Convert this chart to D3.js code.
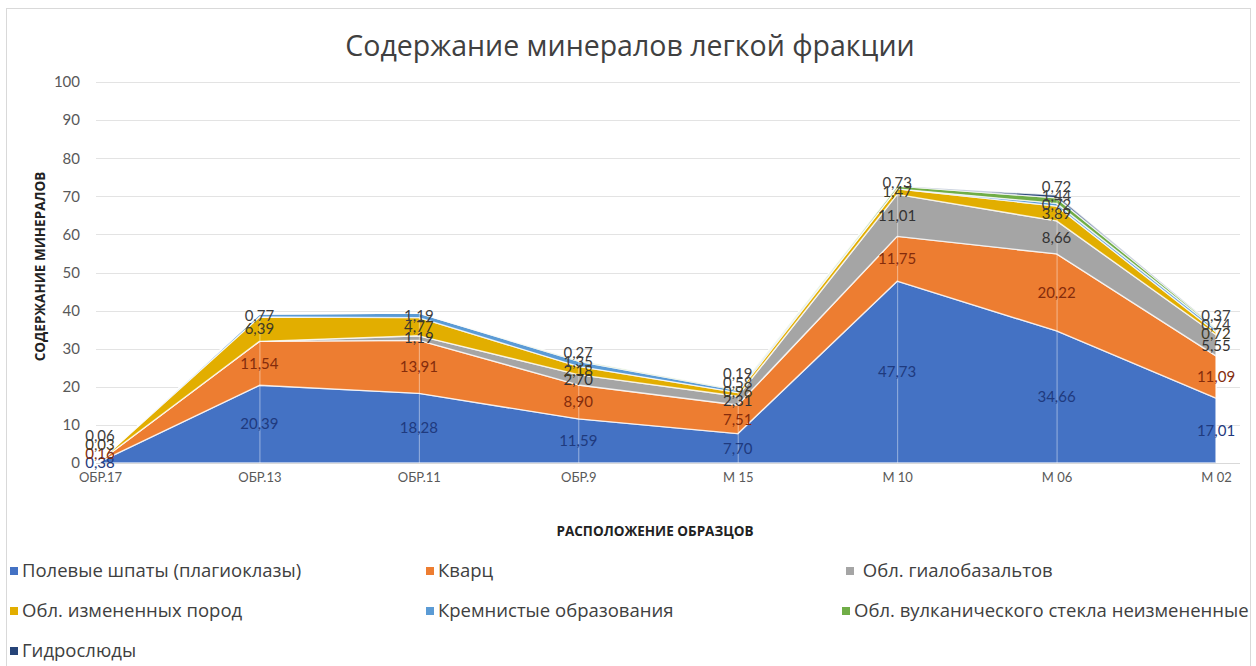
<!DOCTYPE html>
<html>
<head>
<meta charset="utf-8">
<script src="https://cdn.jsdelivr.net/npm/d3@7"></script>
<style>
  html, body { margin: 0; padding: 0; background: #fff; }
  svg { display: block; font-family: Lato, "Open Sans", sans-serif; }
</style>
</head>
<body>
<svg id="chart" width="1256" height="666"></svg>
<script>
// Sample locations along the profile
const samples = ["ОБР.17", "ОБР.13", "ОБР.11", "ОБР.9", "М 15", "М 10", "М 06", "М 02"];

// Mineral content of the light fraction, per sample
const feldspar   = [0.38, 20.39, 18.28, 11.59, 7.70, 47.73, 34.66, 17.01];
const quartz     = [0.16, 11.54, 13.91,  8.90, 7.51, 11.75, 20.22, 11.09];
const hyaloBasalt= [0,     0,     1.19,  2.70, 2.31, 11.01,  8.66,  5.55];
const altered    = [0.03,  6.39,  4.77,  2.18, 0.96,  1.47,  3.89,  0.72];
const siliceous  = [0.06,  0.77,  1.19,  1.35, 0.58,  0,     0.72,  0.74];
const volcGlass  = [0,     0,     0,     0.27, 0.19,  0.73,  1.44,  0.37];
const hydromica  = [0,     0,     0,     0,    0,     0,     0.72,  0];

const seriesNames = [
  "Полевые шпаты (плагиоклазы)",
  "Кварц",
  " Обл. гиалобазальтов",
  "Обл. измененных пород",
  "Кремнистые образования",
  "Обл. вулканического стекла неизмененные",
  "Гидрослюды"
];
const seriesValues = [feldspar, quartz, hyaloBasalt, altered, siliceous, volcGlass, hydromica];
const seriesColors = ["#4472C4", "#ED7D31", "#A5A5A5", "#E2AE00", "#5B9BD5", "#70AD47", "#264478"];
const labelColors  = ["#1F3A7E", "#842C0C", "#333333", "#3E3A26", "#404040", "#404040", "#404040"];

const yTicks = [0, 10, 20, 30, 40, 50, 60, 70, 80, 90, 100];

const rows = samples.map((s, i) => {
  const r = { sample: s };
  seriesNames.forEach((n, k) => { r[n] = seriesValues[k][i]; });
  return r;
});

const svg = d3.select("#chart");
const W = 1256, H = 666;

// Chart frame
svg.append("rect").attr("x", 6.5).attr("y", 8.5).attr("width", W - 12).attr("height", H)
  .attr("fill", "#fff").attr("stroke", "#D9D9D9");

const plot = { left: 100, right: 1216, top: 82, bottom: 463, gridRight: 1240 };

const x = d3.scalePoint().domain(samples).range([plot.left, plot.right]);
const y = d3.scaleLinear().domain([0, 100]).range([plot.bottom, plot.top]);

// Title
svg.append("text").attr("x", 630).attr("y", 56).attr("text-anchor", "middle")
  .attr("font-family", "'Open Sans', sans-serif")
  .attr("font-size", 28.5).attr("fill", "#404040").text("Содержание минералов легкой фракции");

// Horizontal gridlines
svg.append("g").selectAll("line").data(yTicks.slice(1)).join("line")
  .attr("x1", plot.left - 4).attr("x2", plot.gridRight)
  .attr("y1", d => Math.round(y(d)) + 0.5).attr("y2", d => Math.round(y(d)) + 0.5)
  .attr("stroke", "#E3E3E3").attr("stroke-width", 1);

// Y axis labels
const yAxis = d3.axisLeft(y).tickValues(yTicks).tickSize(0).tickPadding(0);
const gy = svg.append("g").attr("transform", `translate(${plot.left - 20},0)`).call(yAxis);
gy.select(".domain").remove();
gy.selectAll("text").attr("font-size", 15).attr("fill", "#595959")
  .attr("font-family", "Lato, sans-serif");

// Y axis title
svg.append("text").attr("transform", `translate(45,${(plot.top + plot.bottom) / 2 - 6}) rotate(-90)`)
  .attr("text-anchor", "middle").attr("font-size", 13.5).attr("font-weight", 700)
  .attr("font-family", "'Open Sans', sans-serif")
  .attr("fill", "#222").text("СОДЕРЖАНИЕ МИНЕРАЛОВ");

// Stacked areas
const stack = d3.stack().keys(seriesNames);
const stacked = stack(rows);

const area = d3.area()
  .x(d => x(d.data.sample))
  .y0(d => y(d[0]))
  .y1(d => y(d[1]));

svg.append("g").selectAll("path").data(stacked).join("path")
  .attr("d", area)
  .attr("fill", (d, i) => seriesColors[i])
  .attr("stroke", "#ffffff").attr("stroke-opacity", 0.75).attr("stroke-width", 1.4)
  .attr("stroke-linejoin", "round");

// Drop lines at each sample
const tops = rows.map((r, i) => stacked[stacked.length - 1][i][1]);
svg.append("g").selectAll("line").data(samples).join("line")
  .attr("x1", d => x(d) + 0.5).attr("x2", d => x(d) + 0.5)
  .attr("y1", (d, i) => y(tops[i])).attr("y2", plot.bottom)
  .attr("stroke", "#ffffff").attr("stroke-opacity", 0.45).attr("stroke-width", 1);

// X axis line
svg.append("line").attr("x1", plot.left - 4).attr("x2", plot.gridRight)
  .attr("y1", plot.bottom + 0.5).attr("y2", plot.bottom + 0.5)
  .attr("stroke", "#D9D9D9");

// X axis labels
const xAxis = d3.axisBottom(x).tickSize(0).tickPadding(10);
const gx = svg.append("g").attr("transform", `translate(0,${plot.bottom})`).call(xAxis);
gx.select(".domain").remove();
gx.selectAll("text").attr("font-size", 13).attr("fill", "#595959")
  .attr("font-family", "Lato, sans-serif");

// X axis title
svg.append("text").attr("x", 655).attr("y", 536).attr("text-anchor", "middle")
  .attr("font-size", 13.5).attr("font-weight", 700).attr("fill", "#222")
  .attr("font-family", "'Open Sans', sans-serif")
  .text("РАСПОЛОЖЕНИЕ ОБРАЗЦОВ");

// Value labels: centred in each band, nudged upward where they would collide
const minGap = 9;
const labels = [];
samples.forEach((s, i) => {
  let prevY = Infinity;
  stacked.forEach((layer, k) => {
    const v = seriesValues[k][i];
    if (!v) return;
    let ly = y((layer[i][0] + layer[i][1]) / 2);
    if (ly > prevY - minGap) ly = prevY - minGap;
    prevY = ly;
    labels.push({ x: x(s), y: ly, text: d3.format(".2f")(v).replace(".", ","), color: labelColors[k] });
  });
});
svg.append("g").selectAll("text").data(labels).join("text")
  .attr("x", d => d.x).attr("y", d => d.y).attr("dy", "0.35em")
  .attr("text-anchor", "middle").attr("font-size", 15).attr("fill", d => d.color)
  .text(d => d.text);

// Legend
const legendPos = [
  { x: 10, y: 571 }, { x: 426, y: 571 }, { x: 846, y: 571 },
  { x: 10, y: 611 }, { x: 426, y: 611 }, { x: 842, y: 611 },
  { x: 10, y: 651 }
];
const lg = svg.append("g").selectAll("g").data(seriesNames).join("g")
  .attr("transform", (d, i) => `translate(${legendPos[i].x},${legendPos[i].y})`);
lg.append("rect").attr("x", 0).attr("y", -4).attr("width", 8).attr("height", 8)
  .attr("fill", (d, i) => seriesColors[i]);
lg.append("text").attr("x", 12).attr("dy", "0.35em").attr("font-size", 18.5)
  .attr("font-family", "'Open Sans', sans-serif")
  .attr("fill", "#404040").attr("xml:space", "preserve").text(d => d);
</script>
</body>
</html>
